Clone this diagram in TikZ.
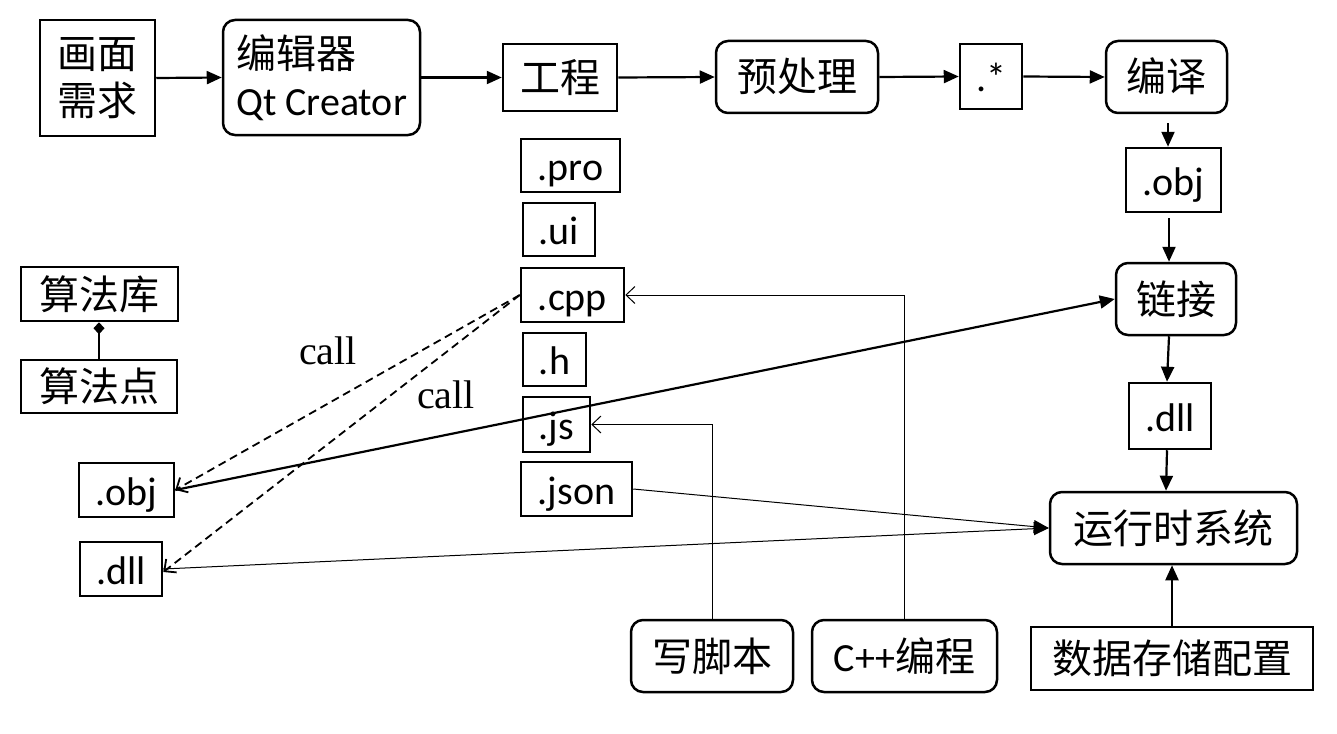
\documentclass[tikz,border=0pt]{standalone}
\usepackage{fontspec}
\setmainfont{Carlito}
\newfontfamily\cjk{Noto Sans CJK SC}
\newfontfamily\tms{Liberation Serif}
\usetikzlibrary{arrows.meta}
\begin{document}
\begin{tikzpicture}[x=1pt,y=-1pt,
  base/.style={draw, line width=2.5pt, inner sep=0pt, font=\fontsize{40}{47}\selectfont},
  box/.style={base, text height=30pt, text depth=0pt},
  rbox/.style={box, rounded corners=12pt},
  sz/.style n args={2}{minimum width=#1pt, minimum height=#2pt},
  arr/.style={line width=2.2pt, -{Triangle[length=15pt,width=13pt]}},
  tarr/.style={line width=1pt, -{Triangle[length=15pt,width=13pt]}},
  oarr/.style={line width=1pt, -{Straight Barb[length=9pt,width=17pt]}},
  darr/.style={line width=1.8pt, dash pattern=on 8pt off 5pt, -{Straight Barb[length=9pt,width=17pt]}},
  lbl/.style={font=\tms\fontsize{40}{47}\selectfont, inner sep=0pt}
]
\useasboundingbox[fill=white] (0,0) rectangle (1337,733);

% top row
\node[base, sz={115}{116}, align=center] (hm) at (97.5,78) {\cjk 画面\\\cjk 需求};
\node[base, rounded corners=12pt, sz={197}{115}, align=left] (ed) at (321.5,77.5) {{\cjk 编辑器}\\Qt Creator};
\node[box, sz={114}{67}] (gc) at (560,77.5) {\cjk 工程};
\node[rbox, sz={162}{72}] (ycl) at (797,77) {\cjk 预处理};
\node[box, sz={62}{65}] (star) at (991,76.5) {.*};
\node[rbox, sz={121}{72}] (by) at (1166.5,77) {\cjk 编译};

% right column
\node[box, sz={95}{64}] (objR) at (1173.5,180) {.obj};
\node[rbox, sz={120}{72}] (lj) at (1176,299) {\cjk 链接};
\node[box, sz={82}{66}] (dllR) at (1170,416) {.dll};
\node[rbox, sz={247}{72}] (yx) at (1173.5,528) {\cjk 运行时系统};
\node[box, sz={282}{63}] (sj) at (1172,658.5) {\cjk 数据存储配置};

% bottom
\node[rbox, sz={162}{72}] (xjb) at (712,656) {\cjk 写脚本};
\node[rbox, sz={185}{72}] (cb) at (904.5,656) {C++{\cjk 编程}};

% file column
\node[box, sz={99}{53}] (pro) at (570.5,165.5) {.pro};
\node[box, sz={72}{53}] (ui) at (559,229.5) {.ui};
\node[box, sz={103}{54}] (cpp) at (572.5,295) {.cpp};
\node[box, sz={63}{53}] (hh) at (554.5,359.5) {.h};
\node[box, sz={67}{55}] (js) at (556.5,424.5) {.js};
\node[box, sz={111}{54}] (json) at (576.5,489) {.json};

% left
\node[box, sz={157}{54}] (sfk) at (99.5,294) {\cjk 算法库};
\node[box, sz={156}{53}] (sfd) at (99,386.5) {\cjk 算法点};
\node[box, sz={95}{54}] (objL) at (126.5,490) {.obj};
\node[box, sz={82}{54}] (dllL) at (121,569) {.dll};

\node[lbl] (call1) at (328,351) {call};
\node[lbl] (call2) at (446,395) {call};

% top row arrows
\draw[arr] (hm.east) -- (ed.west);
\draw[arr] (ed.east) -- (gc.west);
\draw[arr] (gc.east) -- (ycl.west);
\draw[arr] (ycl.east) -- (star.west);
\draw[arr] (star.east) -- (by.west);

% right column arrows
\draw[arr, shorten <=9pt] ([xshift=1.5pt]by.south) -- ([xshift=1.5pt]by.south |- objR.north);
\draw[arr, shorten <=5pt] ([xshift=-4.5pt]objR.south) -- ([xshift=-4.5pt]objR.south |- lj.north);
\draw[arr] ([xshift=-7pt]lj.south) -- ([xshift=-3pt]dllR.north);
\draw[arr] ([xshift=-3pt]dllR.south) -- ([xshift=-7.5pt]yx.north);
\draw[arr] (sj.north) -- (sj.north |- yx.south);

% long links
\draw[arr] (objL.east) -- (lj.west);
\draw[tarr] (json.east) -- (yx.west);
\draw[tarr] (dllL.east) -- (yx.west);
\draw[darr] (cpp.west) -- (objL.east);
\draw[darr] (cpp.west) -- ([yshift=-3pt]dllL.east);

% orthogonal
\draw[oarr] (xjb.north) |- (js.east);
\draw[oarr] (cb.north) |- (cpp.east);

% composition
\draw[line width=1.8pt, -{Diamond[length=12pt,width=11pt]}] (sfd.north) -- (sfd.north |- sfk.south);
\end{tikzpicture}
\end{document}
